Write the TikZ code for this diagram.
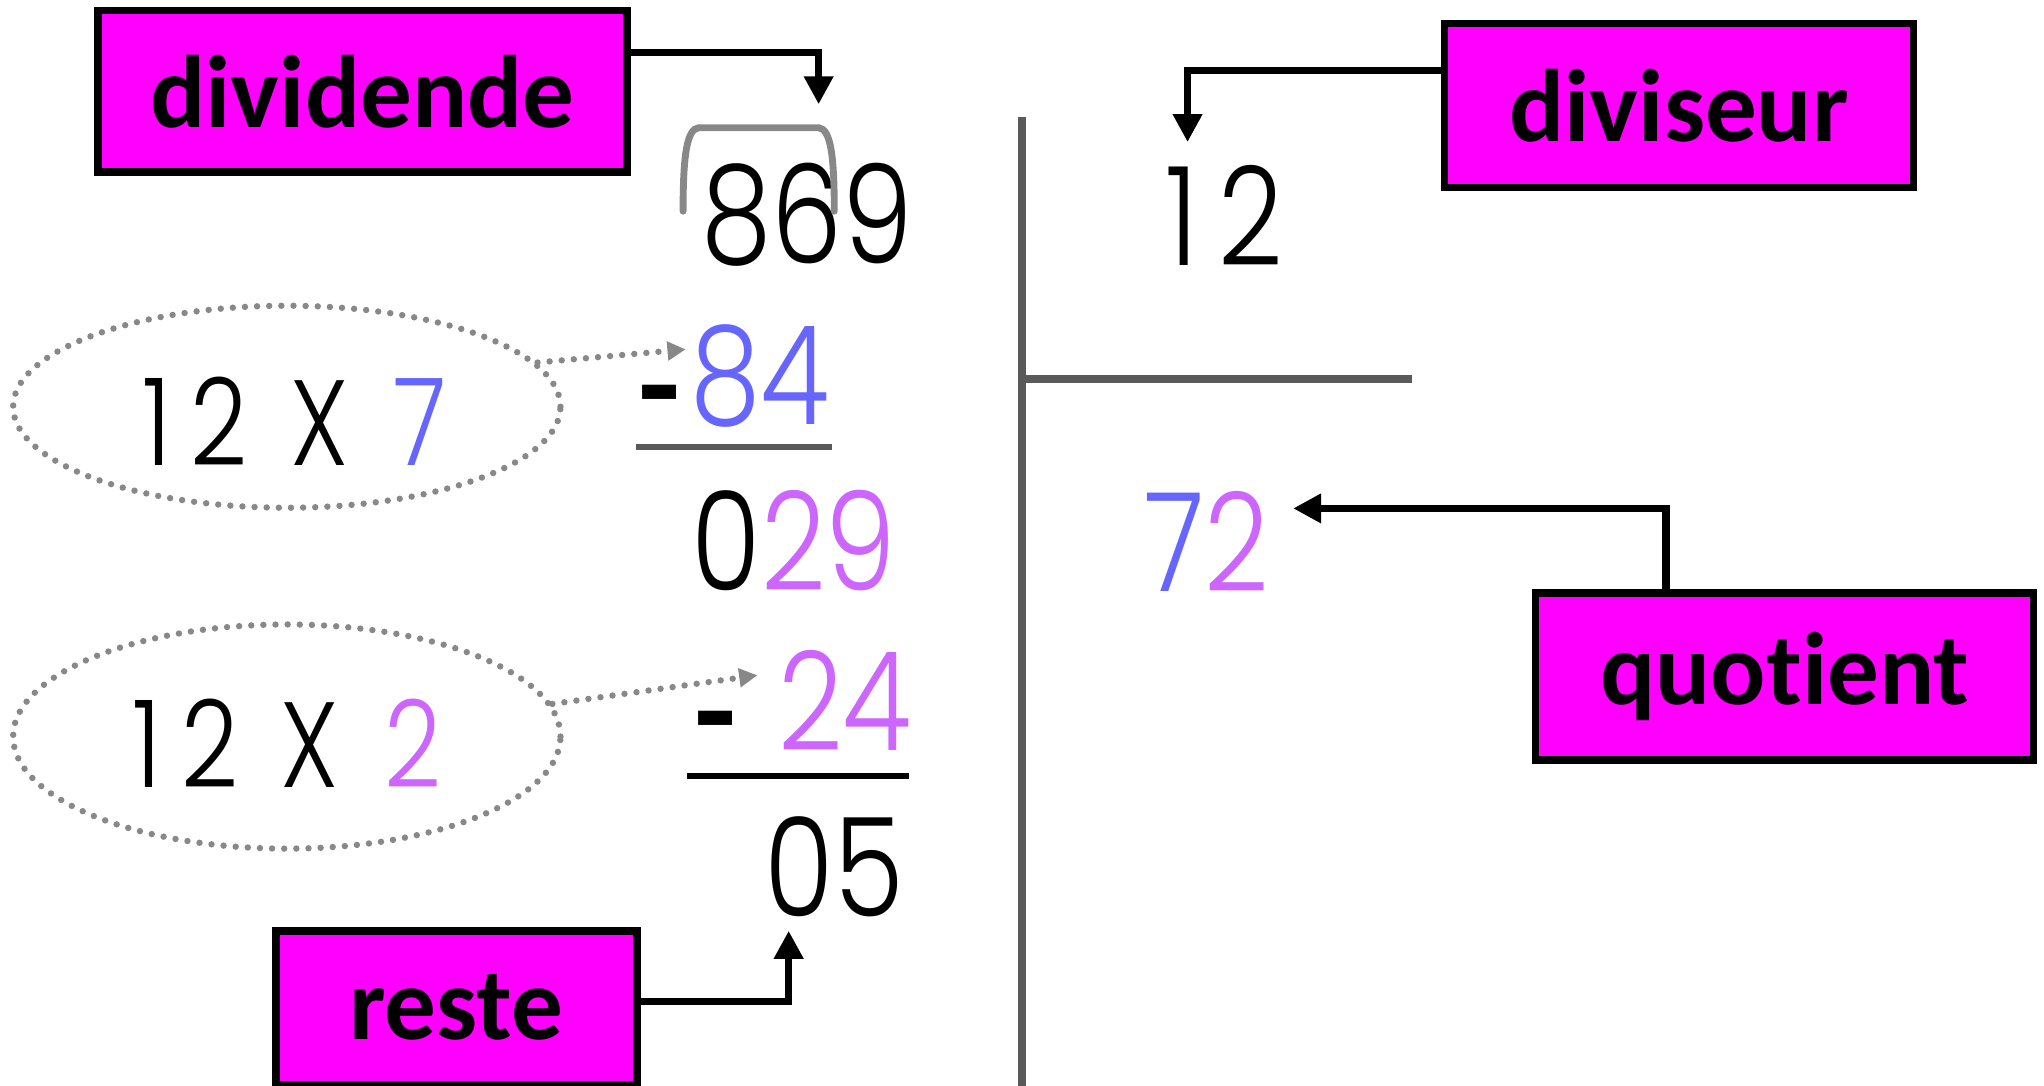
\documentclass[tikz,border=0pt]{standalone}
\usepackage{fontspec}
\setmainfont{Carlito}[Ligatures={NoCommon}]
\newfontfamily\numfont{Poppins Light}[FakeStretch=0.82]
\usetikzlibrary{arrows.meta,shapes.geometric}
\definecolor{boxmagenta}{HTML}{FF00FF}
\definecolor{qblue}{HTML}{6666FF}
\definecolor{qpurple}{HTML}{CC66FF}
\definecolor{dotgray}{HTML}{888888}
\definecolor{rulegray}{HTML}{5A5A5A}
\newcommand{\moins}{{\normalfont\bfseries\raisebox{-0.1cm}{-}}}
\newcommand{\douze}{1\kern0.3cm 2}

\begin{document}
\begin{tikzpicture}[x=0.02cm, y=-0.02cm,
    labelbox/.style={draw=black, line width=3.3pt, fill=boxmagenta, inner sep=0pt,
        font=\bfseries\fontsize{45}{50}\selectfont},
    digits/.style={inner sep=0pt, font=\numfont\fontsize{60}{60}\selectfont},
    factor/.style={inner sep=0pt, font=\numfont\fontsize{53}{53}\selectfont},
    product/.style={ellipse, draw=dotgray, line width=2.8pt, dash pattern=on 0pt off 5.3pt,
        line cap=round, inner sep=0pt},
    pointer/.style={line width=3.1pt, -{Triangle[length=0.43cm, width=0.43cm]}},
    hint/.style={dotgray, line width=2.8pt, dash pattern=on 0pt off 5.3pt, line cap=round,
        -{Triangle[length=0.28cm, width=0.28cm]}}]
    \useasboundingbox (0,0) rectangle (1568,833);

    % potence
    \draw[rulegray, line width=3.2pt] (784,90) -- (784,833);
    \draw[rulegray, line width=3.6pt] (784,291) -- (1083,291);

    % nombres
    \node[digits] (n869) at (619,165) {869};
    \draw[dotgray, line width=3pt, line cap=round] (524,162) .. controls (524,118) and (527,99) .. (536,98)
        -- (628,98) .. controls (637,99) and (640,118) .. (640,162);
    \node[digits] (n12) at (939,165) {\douze};
    \node[digits, anchor=east] (n84) at (637,290) {\moins\hspace{0.15cm}\textcolor{qblue}{84}};
    \draw[rulegray, line width=2.6pt] (488,343) -- (638,343);
    \node[digits] (n029) at (609,415) {0\textcolor{qpurple}{29}};
    \node[digits] (n72) at (926,415) {\textcolor{qblue}{7}\textcolor{qpurple}{2}};
    \node[digits, anchor=east] (n24) at (700,540) {\moins\hspace{0.65cm}\textcolor{qpurple}{24}};
    \draw[line width=2.6pt] (527,595) -- (697,595);
    \node[digits] (n05) at (640,665) {05};

    % produits
    \node[product, minimum width=8.4cm, minimum height=3.1cm] (m7) at (220,312) {};
    \node[factor] (f7) at (226,323) {\douze\hspace{0.65cm}X\hspace{0.7cm}\textcolor{qblue}{7}};
    \node[product, minimum width=8.4cm, minimum height=3.44cm] (m2) at (220,565) {};
    \node[factor] (f2) at (220,570) {\douze\hspace{0.65cm}X\hspace{0.7cm}\textcolor{qpurple}{2}};
    \coordinate (t84) at (526,268);
    \coordinate (t24) at (581,518);
    \draw[hint] (m7.10) -- (t84);
    \draw[hint] (m2.7) -- (t24);

    % etiquettes
    \node[labelbox, minimum width=8.12cm, minimum height=2.48cm] (dividende) at (278,70) {dividende};
    \node[labelbox, minimum width=7.2cm, minimum height=2.52cm] (diviseur) at (1288,81) {diviseur};
    \node[labelbox, minimum width=7.64cm, minimum height=2.56cm] (quotient) at (1369,519) {quotient};
    \node[labelbox, minimum width=5.54cm, minimum height=2.36cm] (reste) at (350,773) {reste};

    \coordinate (dvd) at (628,80);
    \coordinate (dvs) at (911,109);
    \coordinate (quo) at (992,390);
    \coordinate (rst) at (605,714);
    \draw[pointer] ([yshift=0.6cm]dividende.east) -| (dvd);
    \draw[pointer] ([yshift=0.54cm]diviseur.west) -| (dvs);
    \draw[pointer] ([xshift=-1.82cm]quotient.north) |- (quo);
    \draw[pointer] ([yshift=0.1cm]reste.east) -| (rst);
\end{tikzpicture}
\end{document}
